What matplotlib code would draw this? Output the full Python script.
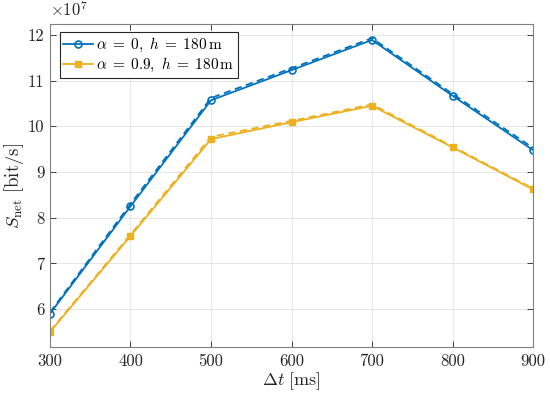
import numpy as np
import matplotlib
matplotlib.use("Agg")
import matplotlib.pyplot as plt

plt.rcParams['font.family'] = 'cmr10'
plt.rcParams['mathtext.fontset'] = 'cm'
plt.rcParams['axes.formatter.use_mathtext'] = True

dt = [300, 400, 500, 600, 700, 800, 900]
blue_solid = [5.90, 8.25, 10.57, 11.23, 11.89, 10.67, 9.48]
blue_dash = [5.93, 8.30, 10.62, 11.27, 11.93, 10.71, 9.53]
yel_solid = [5.50, 7.60, 9.72, 10.09, 10.45, 9.54, 8.62]
yel_dash = [5.52, 7.63, 9.77, 10.12, 10.48, 9.56, 8.64]

blue = '#0072BD'
yellow = '#EDB120'

fig = plt.figure(figsize=(5.5, 3.96), dpi=100)
ax = fig.add_axes([0.0909, 0.1237, 0.8782, 0.8157])

ax.plot(dt, blue_dash, color=blue, lw=1.3, ls=(0, (4, 2.5)))
ax.plot(dt, yel_dash, color=yellow, lw=1.3, ls=(0, (4, 2.5)))
ax.plot(dt, blue_solid, color=blue, lw=1.3, marker='o', ms=5, mfc='none', mew=1.2,
        label=r'$\alpha\;=\;0,\ h\;=\;180\,\mathrm{m}$')
ax.plot(dt, yel_solid, color=yellow, lw=1.3, marker='s', ms=4, mfc=yellow, mew=1.0,
        label=r'$\alpha\;=\;0.9,\ h\;=\;180\,\mathrm{m}$')

ax.set_xlim(300, 900)
ax.set_ylim(5.17, 12.24)
ax.set_xticks(dt)
ax.set_xticklabels([str(v) for v in dt])
ax.set_yticks([6, 7, 8, 9, 10, 11, 12])
ax.set_yticklabels(['6', '7', '8', '9', '10', '11', '12'])
ax.grid(True, color='#e6e6e6', lw=0.7)
ax.set_axisbelow(True)
ax.tick_params(direction='in', top=True, right=True, labelsize=12, colors='#262626',
               length=4, width=0.6, pad=5)
ax.tick_params(axis='y', pad=4)
for s in ax.spines.values():
    s.set_color('#808080')
    s.set_linewidth(0.8)

ax.set_xlabel(r'$\Delta t\ \mathrm{[ms]}$', fontsize=13, color='#262626', labelpad=1)
ax.set_ylabel(r'$S_{\mathrm{net}}\ \mathrm{[bit/s]}$', fontsize=13.5, color='#262626', labelpad=1)
ax.text(0.0, 1.015, r'$\times 10^7$', transform=ax.transAxes, fontsize=12, color='#262626',
        ha='left', va='bottom')

leg = ax.legend(loc='upper left', fontsize=11, handlelength=1.9, handletextpad=0.2,
                borderpad=0.25, labelspacing=0.15, fancybox=False, framealpha=1,
                bbox_to_anchor=(0.02, 0.975), borderaxespad=0.0)
leg.get_frame().set_edgecolor('#262626')
leg.get_frame().set_linewidth(0.8)

fig.savefig('out.png', dpi=100)
